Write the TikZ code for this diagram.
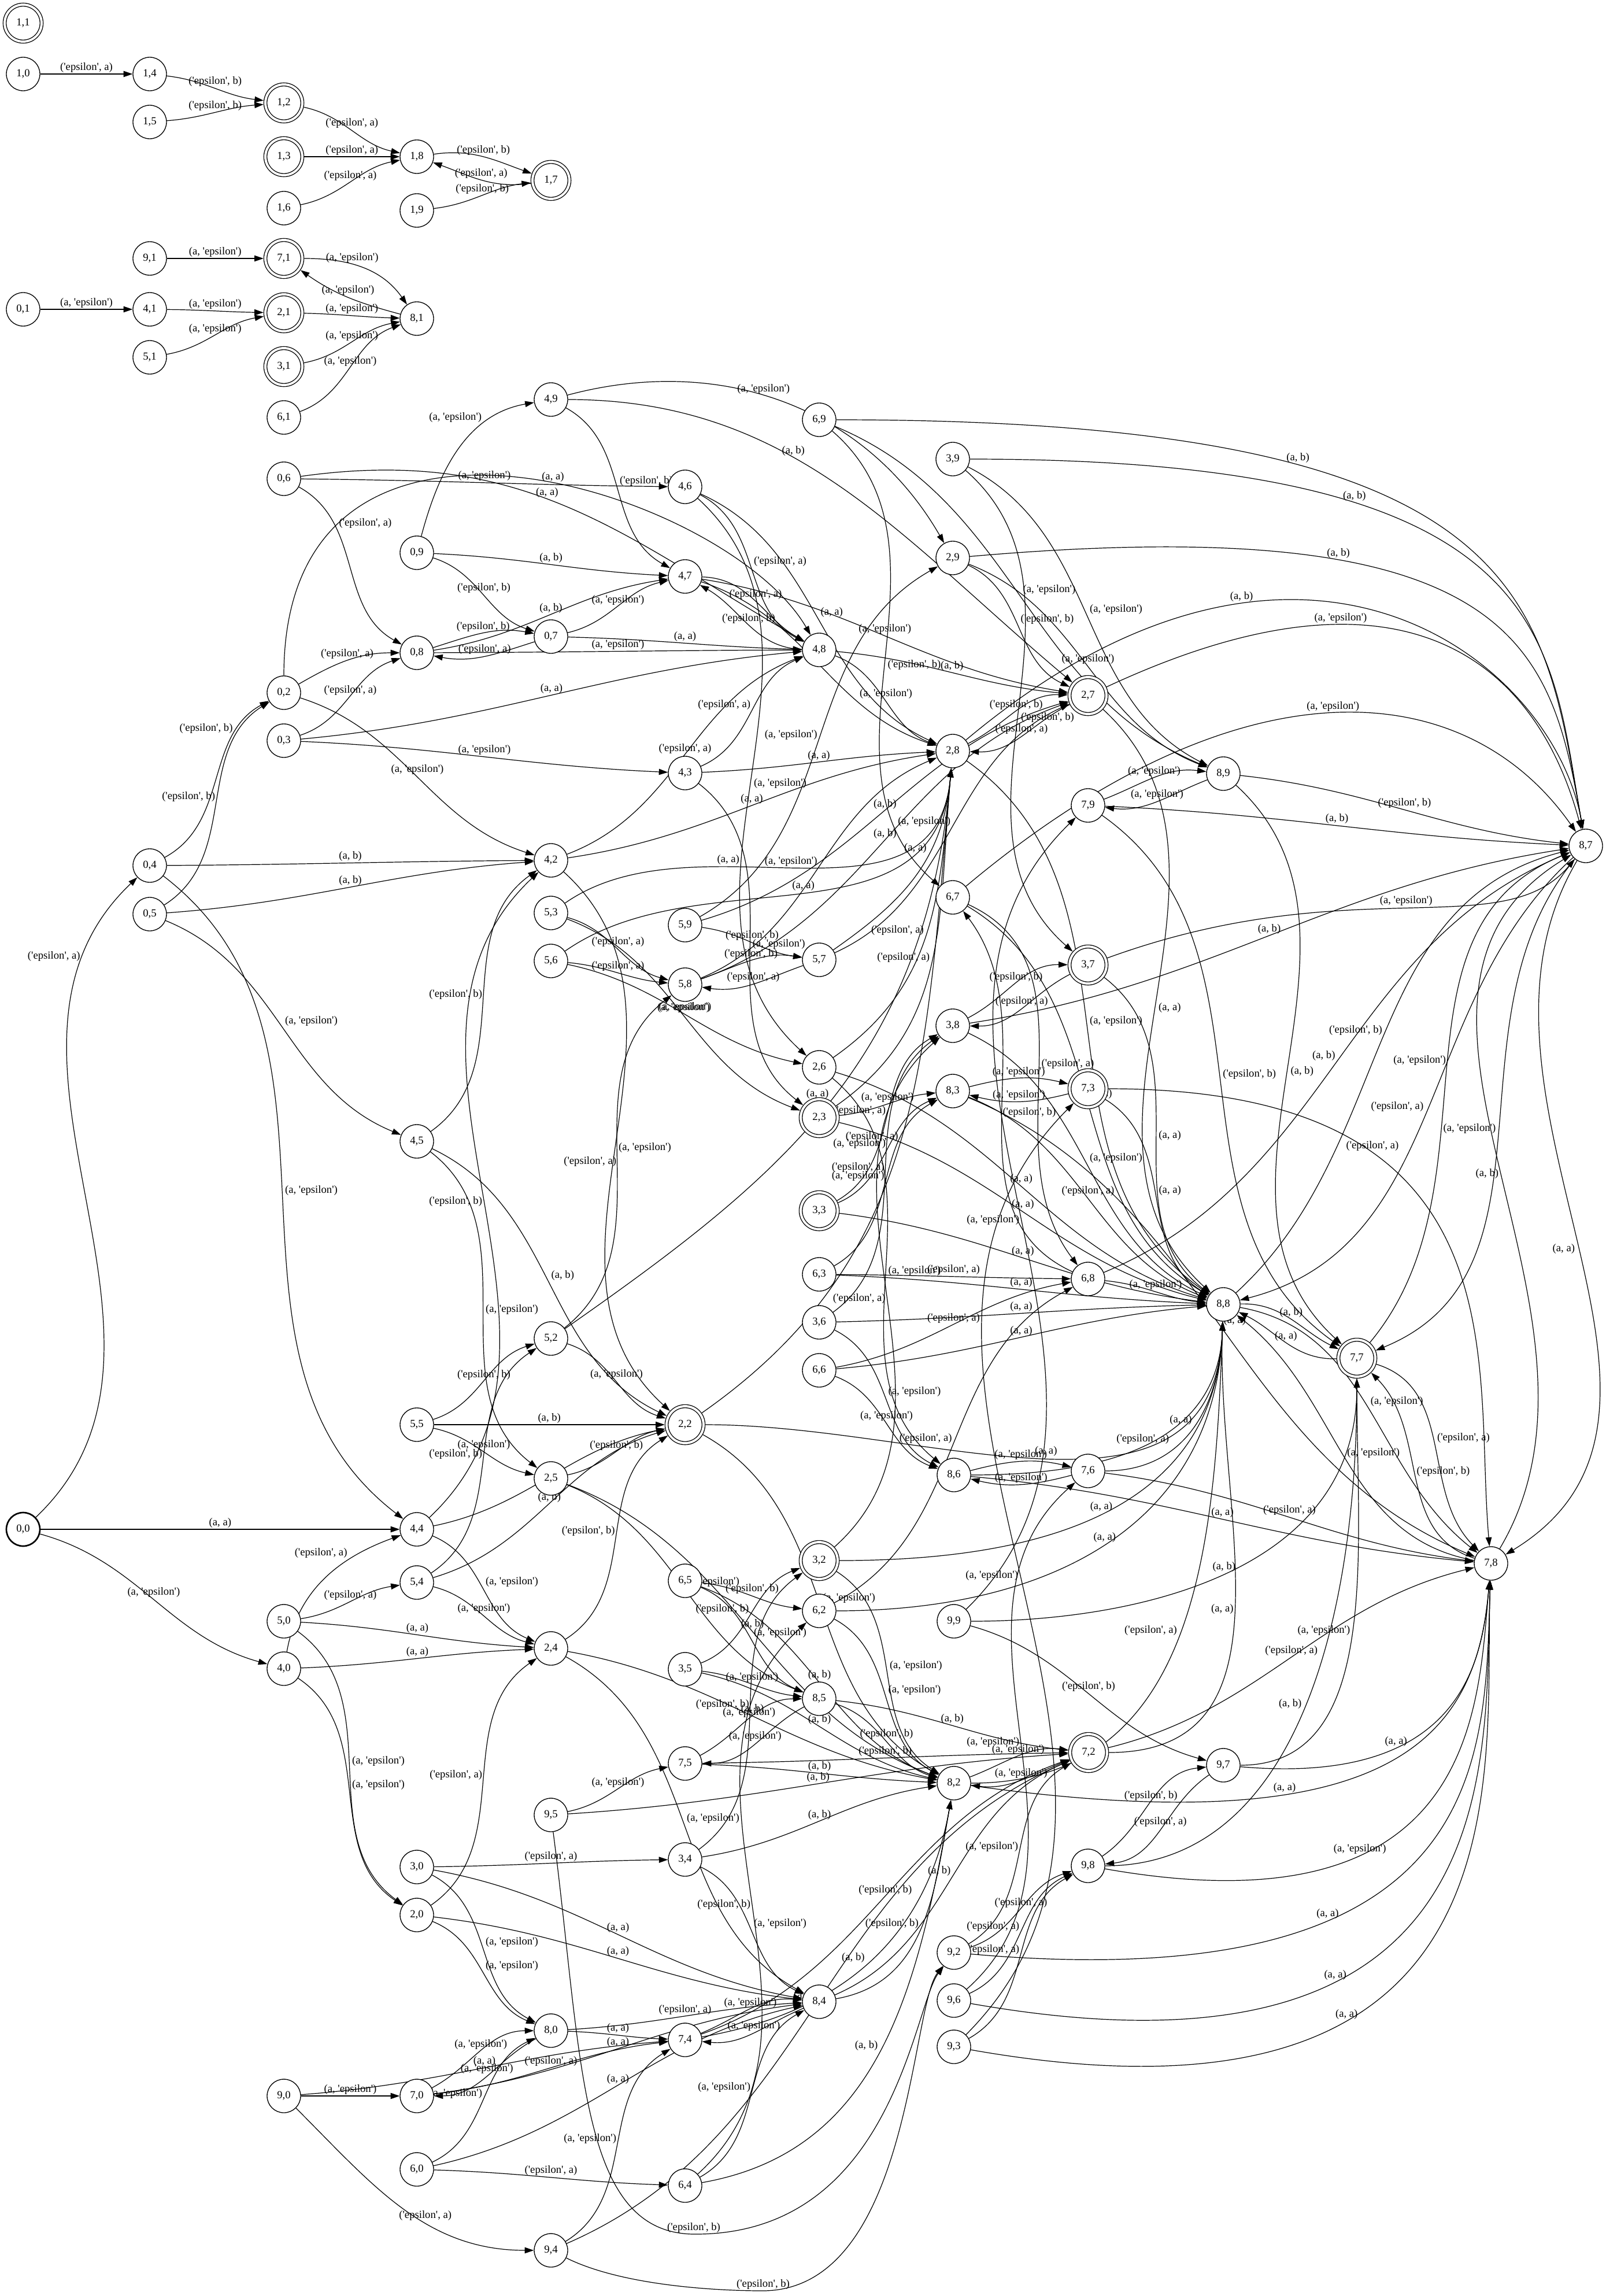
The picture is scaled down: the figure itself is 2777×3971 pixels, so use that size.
\documentclass[tikz,border=0pt]{standalone}
\usepackage{fontspec}
\newfontfamily\lblfont{Liberation Serif}
\usetikzlibrary{arrows.meta,backgrounds}

% label text pieces
\newcommand\epsq{\textquotesingle epsilon\textquotesingle}

% curvature of the default S-shaped connectors (0 = straight)
\newcommand\curv{0.55}

\newdimen\exa \newdimen\eya \newdimen\exb \newdimen\eyb

% per-edge bend for two-way pairs
\newcommand\setbend[3]{\expandafter\gdef\csname bd@#1@#2\endcsname{#3}}
% per-edge extra route / label options (kept unexpanded)
\newcommand\setroute[3]{\expandafter\gdef\csname rt@#1@#2\endcsname{#3}}
\newcommand\setlabel[3]{\expandafter\gdef\csname lp@#1@#2\endcsname{#3}}

% draw one labelled transition between two named states
\newcommand\autoedge[3]{%
  \edef\esrc{#1}\edef\edst{#2}%
  \pgfextractx{\exa}{\pgfpointanchor{\esrc}{center}}%
  \pgfextracty{\eya}{\pgfpointanchor{\esrc}{center}}%
  \pgfextractx{\exb}{\pgfpointanchor{\edst}{center}}%
  \pgfextracty{\eyb}{\pgfpointanchor{\edst}{center}}%
  \pgfmathsetmacro\edx{\exb-\exa}%
  \pgfmathsetmacro\edy{\eyb-\eya}%
  \pgfmathsetmacro\eang{atan2(\edy,\edx)}%
  \pgfmathsetmacro\etrav{\edx<0 ? 180+\curv*(mod(\eang+360,360)-180) : \curv*\eang}%
  \ifcsname bd@\esrc @\edst\endcsname\edef\ebend{\csname bd@\esrc @\edst\endcsname}\else\def\ebend{0}\fi
  \pgfmathsetmacro\eout{\etrav+\ebend}%
  \pgfmathsetmacro\ein{\etrav+180-\ebend}%
  % flat runs carry the label centred above; steep ones beside
  \pgfmathparse{abs(\edy)<0.8*abs(\edx) ? 1 : 0}%
  \ifdim\pgfmathresult pt>0.5pt\def\eside{above}\else
    \ifdim\edx pt<0pt\def\eside{swap}\else\def\eside{}\fi\fi
  \ifcsname rt@\esrc @\edst\endcsname
    \expandafter\let\expandafter\ert\csname rt@\esrc @\edst\endcsname\else\def\ert{}\fi
  \ifcsname lp@\esrc @\edst\endcsname
    \expandafter\let\expandafter\elp\csname lp@\esrc @\edst\endcsname\else\def\elp{}\fi
  \edef\enext{\noexpand\draw[tarrow] (\esrc) to[out=\eout,in=\ein,\unexpanded\expandafter{\ert}]
    node[tlabel,\eside,\unexpanded\expandafter{\elp}] {\unexpanded{#3}} (\edst);}%
  \enext}

\tikzset{
  txt/.style={font=\lblfont\fontsize{4.667pt}{5.4pt}\selectfont},
  state/.style={circle, draw, line width=0.333pt, fill=white, minimum size=14.5pt, inner sep=0pt, txt},
  accept/.style={state, double, double distance=1pt, minimum size=15.97pt, outer sep=0.83pt},
  startstate/.style={state, line width=0.667pt},
  tarrow/.style={line width=0.3pt, -{Triangle[length=3.9pt,width=2.6pt]}},
  tlabel/.style={txt, auto, inner sep=0.6pt},
}

\begin{document}
\begin{tikzpicture}[x=0.25pt,y=-0.25pt]
\useasboundingbox (0,0) rectangle (2777,3971);

% ---------------- states ----------------
\node[accept] (s11) at (40,40) {1,1};
\node[state]  (s10) at (40,128) {1,0};
\node[state]  (s14) at (259,128) {1,4};
\node[state]  (s15) at (259,211) {1,5};
\node[accept] (s12) at (491,178) {1,2};
\node[accept] (s13) at (491,271) {1,3};
\node[state]  (s16) at (491,360) {1,6};
\node[state]  (s18) at (721,271) {1,8};
\node[state]  (s19) at (721,364) {1,9};
\node[accept] (s17) at (953,312) {1,7};

\node[state]  (s91) at (259,447) {9,1};
\node[accept] (s71) at (491,447) {7,1};
\node[state]  (s01) at (40,535) {0,1};
\node[state]  (s41) at (259,535) {4,1};
\node[accept] (s21) at (491,541) {2,1};
\node[state]  (s81) at (721,551) {8,1};
\node[state]  (s51) at (259,618) {5,1};
\node[accept] (s31) at (491,634) {3,1};
\node[state]  (s61) at (491,722) {6,1};

\node[state]  (s06) at (491,828) {0,6};
\node[state]  (s09) at (721,956) {0,9};
\node[state]  (s49) at (953,691) {4,9};
\node[state]  (s69) at (1417,726) {6,9};
\node[state]  (s46) at (1185,842) {4,6};
\node[state]  (s39) at (1648,794) {3,9};
\node[state]  (s29) at (1648,965) {2,9};
\node[state]  (s47) at (1185,997) {4,7};
\node[state]  (s08) at (721,1129) {0,8};
\node[state]  (s02) at (491,1198) {0,2};
\node[state]  (s03) at (491,1281) {0,3};
\node[state]  (s04) at (259,1497) {0,4};
\node[state]  (s05) at (259,1581) {0,5};
\node[state]  (s45) at (721,1974) {4,5};
\node[state]  (s07) at (953,1101) {0,7};
\node[state]  (s48) at (1417,1124) {4,8};
\node[state]  (s28) at (1648,1299) {2,8};
\node[state]  (s43) at (1185,1337) {4,3};
\node[state]  (s42) at (953,1488) {4,2};
\node[state]  (s53) at (953,1579) {5,3};
\node[state]  (s59) at (1185,1600) {5,9};
\node[state]  (s56) at (953,1662) {5,6};
\node[state]  (s57) at (1417,1660) {5,7};
\node[state]  (s67) at (1648,1552) {6,7};
\node[state]  (s58) at (1185,1703) {5,8};
\node[state]  (s38) at (1648,1774) {3,8};
\node[state]  (s26) at (1417,1846) {2,6};
\node[state]  (s83) at (1648,1887) {8,3};
\node[accept] (s23) at (1417,1933) {2,3};
\node[accept] (s27) at (1882,1203) {2,7};
\node[state]  (s89) at (2116,1338) {8,9};
\node[state]  (s79) at (1882,1393) {7,9};
\node[state]  (s87) at (2743,1463) {8,7};
\node[accept] (s37) at (1882,1669) {3,7};
\node[accept] (s73) at (1882,1883) {7,3};

\node[state]  (s55) at (721,2464) {5,5};
\node[startstate] (s00) at (40,2645) {0,0};
\node[state]  (s44) at (721,2645) {4,4};
\node[state]  (s54) at (721,2737) {5,4};
\node[state]  (s50) at (491,2804) {5,0};
\node[state]  (s40) at (491,2886) {4,0};
\node[accept] (s33) at (1417,2094) {3,3};
\node[state]  (s63) at (1417,2204) {6,3};
\node[state]  (s36) at (1417,2287) {3,6};
\node[state]  (s52) at (953,2315) {5,2};
\node[state]  (s66) at (1417,2370) {6,6};
\node[accept] (s22) at (1185,2464) {2,2};
\node[state]  (s86) at (1650,2551) {8,6};
\node[state]  (s25) at (953,2557) {2,5};
\node[accept] (s32) at (1417,2699) {3,2};
\node[state]  (s65) at (1185,2734) {6,5};
\node[state]  (s62) at (1417,2786) {6,2};
\node[state]  (s99) at (1650,2804) {9,9};
\node[state]  (s24) at (953,2851) {2,4};
\node[state]  (s35) at (1185,2887) {3,5};
\node[state]  (s85) at (1417,2938) {8,5};
\node[state]  (s68) at (1882,2212) {6,8};
\node[state]  (s88) at (2116,2256) {8,8};
\node[accept] (s77) at (2347,2349) {7,7};
\node[state]  (s76) at (1882,2544) {7,6};
\node[state]  (s78) at (2579,2704) {7,8};

\node[state]  (s30) at (721,3229) {3,0};
\node[state]  (s20) at (721,3312) {2,0};
\node[state]  (s90) at (491,3625) {9,0};
\node[state]  (s70) at (721,3625) {7,0};
\node[state]  (s60) at (721,3752) {6,0};
\node[state]  (s80) at (953,3512) {8,0};
\node[state]  (s94) at (953,3892) {9,4};
\node[state]  (s75) at (1185,3050) {7,5};
\node[state]  (s82) at (1650,3084) {8,2};
\node[state]  (s95) at (953,3139) {9,5};
\node[state]  (s34) at (1185,3216) {3,4};
\node[state]  (s92) at (1650,3377) {9,2};
\node[state]  (s84) at (1417,3462) {8,4};
\node[state]  (s96) at (1650,3460) {9,6};
\node[state]  (s74) at (1185,3528) {7,4};
\node[state]  (s93) at (1650,3540) {9,3};
\node[state]  (s64) at (1185,3780) {6,4};
\node[accept] (s72) at (1883,3031) {7,2};
\node[state]  (s97) at (2116,3053) {9,7};
\node[state]  (s98) at (1882,3227) {9,8};

% ---------------- transitions ----------------
% two-way pairs bend apart
\foreach \qa in {0,...,9}{\setbend{s7\qa}{s8\qa}{14}\setbend{s8\qa}{s7\qa}{14}%
  \setbend{s\qa 7}{s\qa 8}{14}\setbend{s\qa 8}{s\qa 7}{14}}
\setbend{s77}{s88}{14}\setbend{s88}{s77}{14}
\setbend{s78}{s87}{14}\setbend{s87}{s78}{14}

% long runs that drop into 8,7 from above
\setroute{s69}{s87}{out=0,in=100,out looseness=2.1,in looseness=0.7}
\setroute{s39}{s87}{out=0,in=100,out looseness=2.1,in looseness=0.7}
\setroute{s29}{s87}{out=5,in=100,out looseness=2.1,in looseness=0.7}
\setroute{s28}{s87}{out=40,in=100,out looseness=1.8,in looseness=0.7}
\setroute{s27}{s87}{out=25,in=105,out looseness=1.8,in looseness=0.8}
\setroute{s67}{s87}{out=40,in=125,out looseness=1.5,in looseness=0.8}
\setroute{s37}{s87}{out=20,in=230,out looseness=1.4,in looseness=0.6}
\foreach \qa in {s69,s39,s29,s28,s27}{\setlabel{\qa}{s87}{pos=0.3,anchor=south}}
% long runs that rise into 7,8 from below
\setroute{s97}{s78}{out=-5,in=-95,out looseness=1.8,in looseness=0.7}
\setroute{s82}{s78}{out=-8,in=-95,out looseness=2.0,in looseness=0.7}
\setroute{s98}{s78}{out=-10,in=-95,out looseness=2.0,in looseness=0.7}
\setroute{s92}{s78}{out=-5,in=-92,out looseness=2.1,in looseness=0.7}
\setroute{s96}{s78}{out=-10,in=-92,out looseness=2.1,in looseness=0.7}
\setroute{s93}{s78}{out=-10,in=-92,out looseness=2.1,in looseness=0.7}
\foreach \qa in {s97,s82,s98,s92,s96,s93}{\setlabel{\qa}{s78}{pos=0.32,anchor=south}}
\setroute{s73}{s78}{out=0,in=95,out looseness=1.8,in looseness=0.8}
\setlabel{s73}{s78}{pos=0.3,anchor=south}
% bundles climbing into 8,8, 7,7, 2,8 and 8,2 from below
\foreach \qa in {s72,s82,s32,s62,s22,s76,s86}{\setroute{\qa}{s88}{out=0,in=-92,out looseness=1.1,in looseness=1.1}}
\foreach \qa in {s97,s98,s99}{\setroute{\qa}{s77}{out=0,in=-90,out looseness=0.9,in looseness=1.1}}
\foreach \qa in {s22,s23,s26,s52,s53,s56,s57}{\setroute{\qa}{s28}{out=35,in=-95,in looseness=1.1}}
\setlabel{s53}{s28}{pos=0.35}
\setlabel{s57}{s28}{pos=0.62}
\foreach \qa in {s84,s64,s74}{\setroute{\qa}{s82}{out=10,in=-100,in looseness=1.1}}
% runs along the bottom edge into 9,2
\setroute{s95}{s92}{to path={.. controls (1008,3560) and (1000,3862) .. (1200,3864) \tikztonodes
  .. controls (1545,3866) and (1580,3470) .. (\tikztotarget)}}
\setlabel{s95}{s92}{pos=1,anchor=south}
\setroute{s94}{s92}{to path={.. controls (1080,3955) and (1250,3962) .. (1320,3962) \tikztonodes
  .. controls (1575,3960) and (1575,3470) .. (\tikztotarget)}}
\setlabel{s94}{s92}{pos=1,anchor=south}

% the small components at the top
\setroute{s71}{s81}{out=0,in=125}
\setlabel{s71}{s81}{pos=0.4,anchor=south}
\setroute{s81}{s71}{out=165,in=-35}
\setlabel{s81}{s71}{pos=0.5,anchor=south}

% upper left area
\setlabel{s00}{s04}{pos=0.85}
\setlabel{s04}{s02}{pos=0.75}
\setlabel{s06}{s08}{pos=0.3}
\setroute{s02}{s08}{out=30,in=180}
\setroute{s09}{s49}{out=75,in=190}
\setlabel{s09}{s49}{pos=0.7}
\setroute{s06}{s48}{out=8,in=150,out looseness=1.1}
\setlabel{s06}{s48}{pos=0.45}
\setroute{s02}{s48}{out=90,in=120,out looseness=1.6,in looseness=0.8}
\setlabel{s02}{s48}{pos=0.55,anchor=south}
\setroute{s49}{s29}{out=15,in=120}
\setlabel{s49}{s29}{pos=0.45,anchor=south}
\setroute{s49}{s27}{out=0,in=140}
\setlabel{s49}{s27}{pos=0.4}
% lower left area
\setroute{s40}{s44}{out=80,in=200}
\setlabel{s40}{s44}{pos=0.68}
\setroute{s90}{s94}{out=-45,in=180}
\setlabel{s90}{s94}{pos=0.6}

\begin{pgfonlayer}{background}
\fill[white] (0,0) rectangle (2777,3971);
% moves of the first component only
\foreach \pa/\pb in {0/4,2/8,3/8,4/2,5/2,6/8,7/8,8/7,9/7}{
  \foreach \qa in {0,...,9}{\autoedge{s\pa\qa}{s\pb\qa}{(a, \epsq)}}}
% moves of the second component only
\foreach \pa in {0,...,9}{
  \foreach \qa/\qb/\lt in {0/4/a,2/8/a,3/8/a,4/2/b,5/2/b,6/8/a,7/8/a,8/7/b,9/7/b}{
    \autoedge{s\pa\qa}{s\pa\qb}{(\epsq, \lt)}}}
% joint moves
\foreach \pa/\pb in {0/4,2/8,3/8,4/2,5/2,6/8,7/8,8/7,9/7}{
  \foreach \qa/\qb/\lt in {0/4/a,2/8/a,3/8/a,4/2/b,5/2/b,6/8/a,7/8/a,8/7/b,9/7/b}{
    \autoedge{s\pa\qa}{s\pb\qb}{(a, \lt)}}}
\end{pgfonlayer}
\end{tikzpicture}
\end{document}
